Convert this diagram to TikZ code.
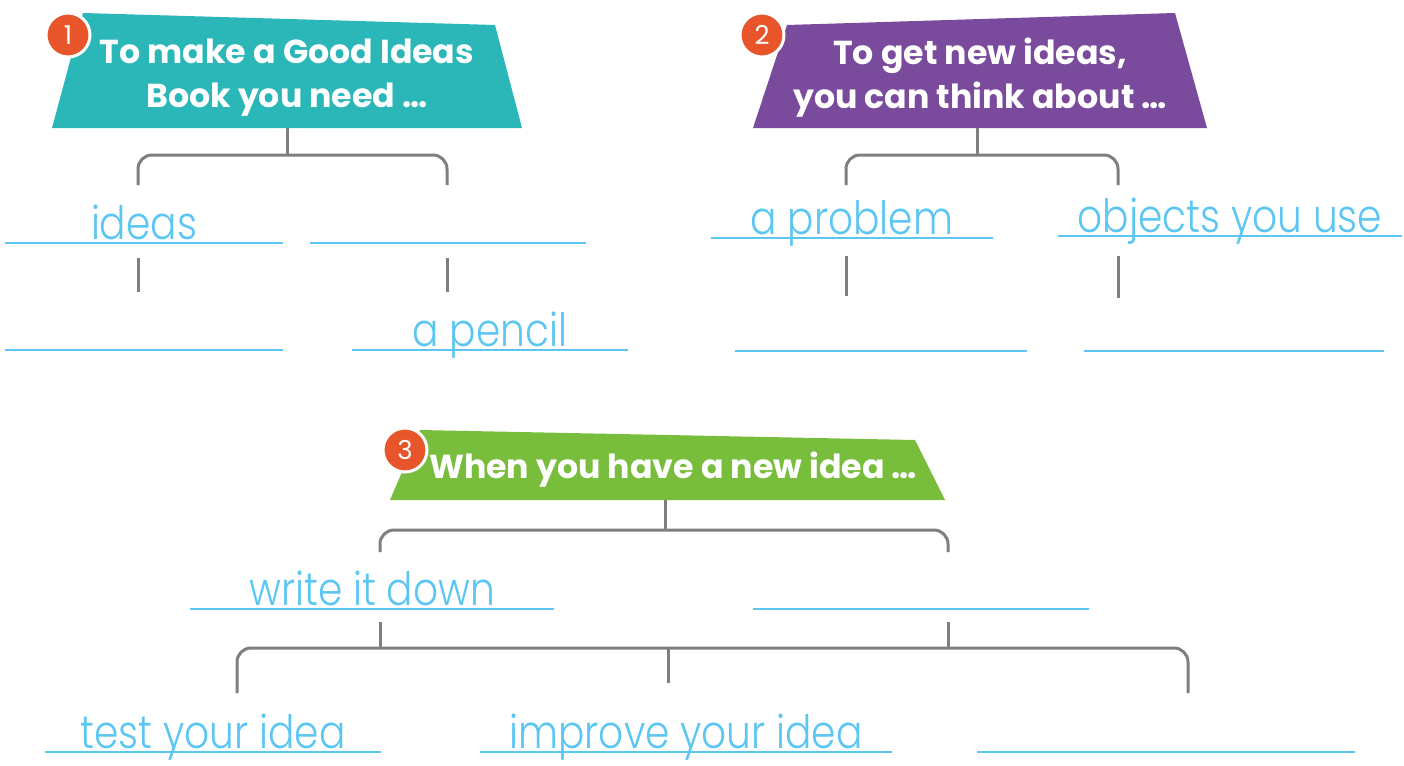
\documentclass[tikz,border=0pt]{standalone}
\usepackage{fontspec}
\usepackage{tikz}
\usetikzlibrary{positioning, calc}
\newfontfamily\headfont{Poppins}
\newfontfamily\handfont{Poppins Light}[FakeStretch=0.85]
\definecolor{tealhead}{HTML}{2BB6B7}
\definecolor{purplehead}{HTML}{7A4A9C}
\definecolor{greenhead}{HTML}{78BE3C}
\definecolor{badgeorange}{HTML}{E9552A}
\definecolor{answerblue}{HTML}{5CC6F2}
\definecolor{branchgrey}{HTML}{7F7F7F}
\tikzstyle{branch} = [draw=branchgrey, line width=1.5pt, rounded corners=7pt]
\tikzstyle{tick} = [draw=branchgrey, line width=1.5pt]
\tikzstyle{writeline} = [draw=answerblue, line width=1pt]

\begin{document}
\begin{tikzpicture}[x=0.5pt, y=-0.5pt,
    badge/.style={circle, fill=badgeorange, draw=white, line width=1.5pt, minimum size=22pt, inner sep=0pt, text=white, font=\headfont\fontsize{13}{13}\selectfont},
    head/.style={text=white, align=center, font=\headfont\bfseries\fontsize{16.6}{22}\selectfont},
    ans/.style={minimum width=#1, inner sep=0pt, text height=18pt, text depth=1.5pt, anchor=south, text=answerblue, font=\handfont\fontsize{23}{23}\selectfont}]
    \useasboundingbox (0,0) rectangle (1404,766);

    % part 1
    \fill[tealhead] (83,13) -- (495,25) -- (522,128) -- (52,128) -- cycle;
    \node[head] (h1) at (287,78) {To make a Good Ideas\\Book you need \dots};
    \node[badge] (n1) at (68,35) {1};
    \coordinate (h1b) at (287,128);
    \draw[branch] (h1b) -- ++(0,27);
    \draw[branch] (138,185) -- (138,155) -- (447,155) -- (447,185);
    \node[ans=139pt] (a1) at (144,243) {ideas};
    \node[ans=138pt] (a2) at (448,243) {};
    \node[ans=139pt] (b1) at (144,350) {};
    \node[ans=138pt] (b2) at (490,350) {a pencil};
    \draw[tick] (a1.south -| 138,0) ++(0,15) -- ++(0,34);
    \draw[tick] (a2.south -| 447,0) ++(0,15) -- ++(0,34);

    % part 2
    \fill[purplehead] (787,25) -- (1175,13) -- (1207,128) -- (753,128) -- cycle;
    \node[head] (h2) at (980,78) {To get new ideas,\\you can think about \dots};
    \node[badge] (n2) at (762,35) {2};
    \coordinate (h2b) at (977,128);
    \draw[branch] (h2b) -- ++(0,27);
    \draw[branch] (846,185) -- (846,155) -- (1118,155) -- (1118,185);
    \node[ans=141pt] (c1) at (852,238) {a problem};
    \node[ans=172pt] (c2) at (1230,236) {objects you use};
    \node[ans=146pt] (d1) at (881,351) {};
    \node[ans=150pt] (d2) at (1234,351) {};
    \draw[tick] (c1.south -| 846,0) ++(0,18) -- ++(0,40);
    \draw[tick] (c2.south -| 1118,0) ++(0,20) -- ++(0,42);

    % part 3
    \fill[greenhead] (420,430) -- (915,440) -- (945,500) -- (390,500) -- cycle;
    \node[head] (h3) at (673,470) {When you have a new idea \dots};
    \node[badge] (n3) at (405,450) {3};
    \coordinate (h3b) at (665,500);
    \draw[branch] (h3b) -- ++(0,30);
    \draw[branch] (380,552) -- (380,530) -- (948,530) -- (948,552);
    \node[ans=182pt] (e1) at (372,609) {write it down};
    \node[ans=168pt] (e2) at (921,609) {};
    \draw[tick] (e1.south -| 380,0) ++(0,13) -- ++(0,26);
    \draw[tick] (e2.south -| 948,0) ++(0,13) -- ++(0,26);
    \draw[branch] (237,693) -- (237,648) -- (1188,648) -- (1188,693);
    \draw[tick] (668,648) -- ++(0,35);
    \node[ans=168pt] (g1) at (213,752) {test your idea};
    \node[ans=206pt] (g2) at (686,752) {improve your idea};
    \node[ans=189pt] (g3) at (1166,752) {};

    % answer lines
    \foreach \n in {a1,a2,b1,b2,c1,c2,d1,d2,e1,e2,g1,g2,g3}
        \draw[writeline] (\n.south west) -- (\n.south east);
\end{tikzpicture}
\end{document}
